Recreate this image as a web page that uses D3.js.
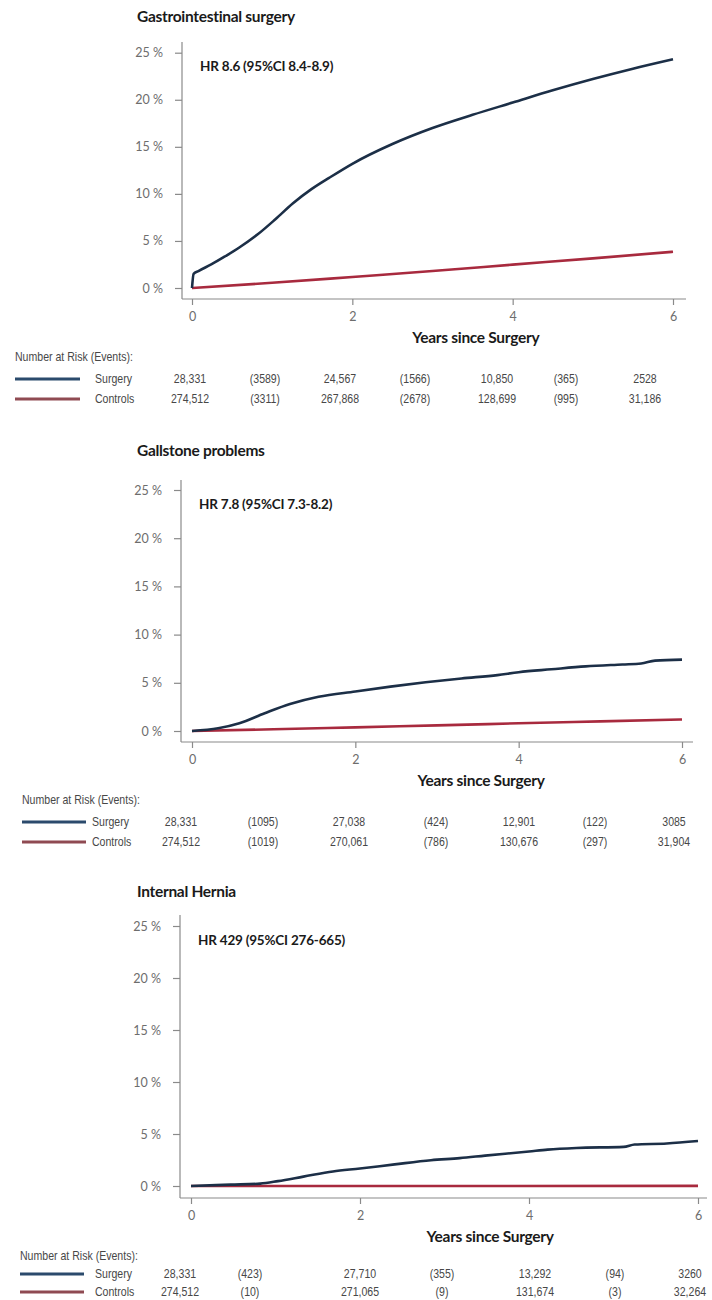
<!DOCTYPE html>
<html>
<head>
<meta charset="utf-8">
<script src="https://cdn.jsdelivr.net/npm/d3@7"></script>
<style>
  html, body { margin: 0; padding: 0; background: #fff; }
  svg { display: block; }
</style>
</head>
<body>
<svg id="chart" width="712" height="1300"></svg>
<script>
// ---- shared axis values ----
const xTickYears = [0, 2, 4, 6];
const yTickPercents = [0, 5, 10, 15, 20, 25];
const seriesNames = ["Surgery", "Controls"];

// ---- Gastrointestinal surgery: cumulative incidence (%) ----
const giTime = [0, 0.02, 0.08, 0.24, 0.42, 0.59, 0.82, 1.04, 1.26, 1.49, 1.71, 2.0, 2.5, 3.0, 3.5, 4.0, 4.5, 5.0, 5.5, 6.0];
const giSurgery = [0, 1.5, 1.8, 2.5, 3.4, 4.3, 5.7, 7.3, 9.0, 10.5, 11.7, 13.2, 15.3, 17.0, 18.4, 19.7, 21.0, 22.2, 23.3, 24.3];
const giControlsTime = [0, 1, 2, 3, 4, 5, 6];
const giControls = [0, 0.55, 1.17, 1.8, 2.48, 3.15, 3.85];
const giAtRiskSurgery = [28331, 24567, 10850, 2528];
const giEventsSurgery = [3589, 1566, 365];
const giAtRiskControls = [274512, 267868, 128699, 31186];
const giEventsControls = [3311, 2678, 995];

// ---- Gallstone problems ----
const gsTime = [0, 0.32, 0.58, 0.89, 1.2, 1.55, 2.0, 2.43, 2.86, 3.3, 3.74, 4.0, 4.4, 4.82, 5.27, 5.5, 5.67, 6.0];
const gsSurgery = [0, 0.28, 0.8, 1.84, 2.8, 3.55, 4.1, 4.6, 5.05, 5.45, 5.8, 6.1, 6.4, 6.7, 6.9, 7.0, 7.3, 7.4];
const gsControlsTime = [0, 1, 2, 3, 4, 5, 6];
const gsControls = [0, 0.18, 0.38, 0.58, 0.8, 1.0, 1.2];
const gsAtRiskSurgery = [28331, 27038, 12901, 3085];
const gsEventsSurgery = [1095, 424, 122];
const gsAtRiskControls = [274512, 270061, 130676, 31904];
const gsEventsControls = [1019, 786, 297];

// ---- Internal hernia ----
const ihTime = [0, 0.47, 0.82, 1.03, 1.33, 1.68, 2.0, 2.41, 2.84, 3.18, 3.48, 4.0, 4.22, 4.56, 5.12, 5.25, 5.63, 6.0];
const ihSurgery = [0, 0.13, 0.23, 0.47, 0.9, 1.4, 1.68, 2.08, 2.48, 2.68, 2.92, 3.32, 3.5, 3.66, 3.76, 3.99, 4.09, 4.33];
const ihControlsTime = [0, 6];
const ihControls = [0, 0.01];
const ihAtRiskSurgery = [28331, 27710, 13292, 3260];
const ihEventsSurgery = [423, 355, 94];
const ihAtRiskControls = [274512, 271065, 131674, 32264];
const ihEventsControls = [10, 9, 3];

const titles = ["Gastrointestinal surgery", "Gallstone problems", "Internal Hernia"];
const hazardLabels = ["HR 8.6 (95%CI 8.4-8.9)", "HR 7.8 (95%CI 7.3-8.2)", "HR 429 (95%CI 276-665)"];

const COLORS = { Surgery: "#1c2f47", Controls: "#a82a3e" };
const LEGEND_COLORS = { Surgery: "#2b4a6c", Controls: "#8f4a52" };
const BOLD_FONT = "Lato, 'Open Sans', sans-serif";
const TABLE_FONT = "'Liberation Sans', Arial, sans-serif";
const TABLE_SQUEEZE = 0.88;   // condensed look for the risk table

const panels = [
  {
    title: titles[0], hr: hazardLabels[0],
    surgery: giTime.map((t, i) => [t, giSurgery[i]]),
    controls: giControlsTime.map((t, i) => [t, giControls[i]]),
    atRisk: [giAtRiskSurgery, giAtRiskControls], events: [giEventsSurgery, giEventsControls],
    layout: { titleY: 17, axisX: 182, x0: 192, x1: 673, axisRight: 686, yTop: 42, y25: 52.7, y0: 288, axisY: 299,
              tableHeadY: 357, rowY: [379, 399], cols: [190, 265, 340, 415, 497, 566, 645], legendX: [15, 80], labelX: 95 }
  },
  {
    title: titles[1], hr: hazardLabels[1],
    surgery: gsTime.map((t, i) => [t, gsSurgery[i]]),
    controls: gsControlsTime.map((t, i) => [t, gsControls[i]]),
    atRisk: [gsAtRiskSurgery, gsAtRiskControls], events: [gsEventsSurgery, gsEventsControls],
    layout: { titleY: 451, axisX: 181, x0: 192, x1: 682, axisRight: 693, yTop: 480, y25: 490, y0: 731, axisY: 742,
              tableHeadY: 800, rowY: [822, 842], cols: [181, 263, 349, 436, 519, 595, 674], legendX: [22, 86], labelX: 92 }
  },
  {
    title: titles[2], hr: hazardLabels[2],
    surgery: ihTime.map((t, i) => [t, ihSurgery[i]]),
    controls: ihControlsTime.map((t, i) => [t, ihControls[i]]),
    atRisk: [ihAtRiskSurgery, ihAtRiskControls], events: [ihEventsSurgery, ihEventsControls],
    layout: { titleY: 892, axisX: 180, x0: 191, x1: 698, axisRight: 707, yTop: 915, y25: 926, y0: 1186, axisY: 1198,
              tableHeadY: 1256, rowY: [1274, 1292], cols: [180, 250, 360, 442, 535, 615, 690], legendX: [20, 84], labelX: 95 }
  }
];

// counts of 10,000 and above get a thousands separator
const fmtCount = n => n >= 10000 ? d3.format(",")(n) : String(n);

const svg = d3.select("#chart");

// condensed table text, placed with a transform so the squeeze keeps its anchor
function tableText(g, x, y, text, anchor) {
  return g.append("text")
    .attr("transform", `translate(${x},${y}) scale(${TABLE_SQUEEZE},1)`)
    .attr("dy", "0.35em").attr("text-anchor", anchor || "start")
    .attr("font-family", TABLE_FONT).attr("font-size", 12).attr("fill", "#474747")
    .text(text);
}

panels.forEach(p => {
  const L = p.layout;
  const g = svg.append("g");
  const x = d3.scaleLinear().domain([0, 6]).range([L.x0, L.x1]);
  const y = d3.scaleLinear().domain([0, 25]).range([L.y0, L.y25]);

  // title
  g.append("text").attr("x", 137).attr("y", L.titleY).attr("dy", "0.35em")
    .attr("font-family", BOLD_FONT).attr("font-weight", 700).attr("font-size", 15.5)
    .attr("letter-spacing", "-0.3px").attr("fill", "#1a1a1a").text(p.title);

  // y axis
  const yAxis = d3.axisLeft(y).tickValues(yTickPercents).tickSize(7).tickPadding(12)
    .tickFormat(d => d + " %");
  const ya = g.append("g").attr("transform", `translate(${L.axisX},0)`).call(yAxis);
  ya.select(".domain").attr("d", `M0,${L.yTop}V${L.axisY}`);

  // x axis
  const xAxis = d3.axisBottom(x).tickValues(xTickYears).tickSize(6).tickPadding(7)
    .tickFormat(d3.format("d"));
  const xa = g.append("g").attr("transform", `translate(0,${L.axisY})`).call(xAxis);
  xa.select(".domain").attr("d", `M${L.axisX},0H${L.axisRight}`);

  [ya, xa].forEach(a => {
    a.select(".domain").attr("stroke", "#8a8a8a").attr("stroke-width", 1.2);
    a.selectAll(".tick line").attr("stroke", "#8a8a8a").attr("stroke-width", 1.2);
    a.selectAll(".tick text").attr("fill", "#6d6d6d").attr("font-size", 12.5)
      .attr("font-family", "Lato, 'Open Sans', sans-serif");
  });

  // x axis title
  g.append("text").attr("x", L.x0 + 0.59 * (L.x1 - L.x0)).attr("y", L.axisY + 39).attr("text-anchor", "middle")
    .attr("dy", "0.35em").attr("font-family", BOLD_FONT).attr("font-weight", 700).attr("font-size", 15.5)
    .attr("letter-spacing", "-0.3px").attr("fill", "#1a1a1a").text("Years since Surgery");

  // hazard ratio annotation
  g.append("text").attr("x", L.axisX + 18).attr("y", L.y25 + 14).attr("dy", "0.35em")
    .attr("font-family", BOLD_FONT).attr("font-weight", 700).attr("font-size", 13.5)
    .attr("letter-spacing", "-0.2px").attr("fill", "#1a1a1a").text(p.hr);

  // curves
  const line = d3.line().x(d => x(d[0])).y(d => y(d[1])).curve(d3.curveMonotoneX);
  g.append("path").datum(p.controls).attr("d", line).attr("fill", "none")
    .attr("stroke", COLORS.Controls).attr("stroke-width", 2.6);
  g.append("path").datum(p.surgery).attr("d", line).attr("fill", "none")
    .attr("stroke", COLORS.Surgery).attr("stroke-width", 2.6).attr("stroke-linejoin", "round");

  // number-at-risk table
  tableText(g, L.legendX[0], L.tableHeadY, "Number at Risk (Events):");

  seriesNames.forEach((name, r) => {
    const ry = L.rowY[r];
    g.append("line").attr("x1", L.legendX[0]).attr("x2", L.legendX[1]).attr("y1", ry).attr("y2", ry)
      .attr("stroke", LEGEND_COLORS[name]).attr("stroke-width", 3);
    tableText(g, L.labelX, ry, name);
    p.atRisk[r].forEach((v, i) => {
      tableText(g, L.cols[i * 2], ry, fmtCount(v), "middle");
      if (i < p.events[r].length) tableText(g, L.cols[i * 2 + 1], ry, "(" + p.events[r][i] + ")", "middle");
    });
  });
});
</script>
</body>
</html>
